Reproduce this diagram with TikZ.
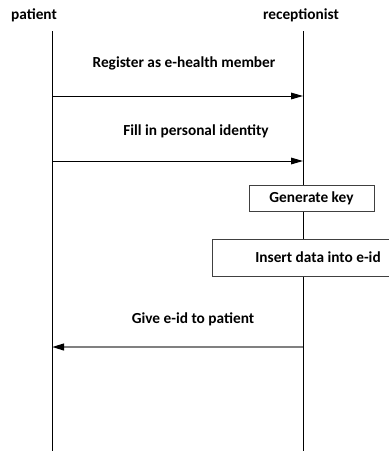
\documentclass[tikz,border=0pt]{standalone}
\usepackage{fontspec}
\setmainfont{Carlito}
\usetikzlibrary{arrows.meta}

\tikzset{every picture/.style={line width=0.75pt}}
\tikzset{
  actor/.style={font=\bfseries\fontsize{11.5}{13}\selectfont, inner sep=0pt},
  msg/.style={font=\bfseries\fontsize{11.5}{13}\selectfont, inner sep=0pt},
  task/.style={draw={rgb, 255:red, 64; green, 64; blue, 64}, fill=white, line width=0.6pt,
    font=\bfseries\fontsize{11.5}{13}\selectfont, inner sep=0pt},
  call/.style={-{Triangle[length=9pt,width=5pt,color=black]}},
}

\begin{document}
\begin{tikzpicture}[x=0.75pt,y=0.75pt,yscale=-1,xscale=1]
\useasboundingbox (0,0) rectangle (389,451);

%Actors
\node [actor] (patient) at (34,15) {patient};
\node [actor] (recept) at (301,15) {receptionist};

%Lifelines
\coordinate (pTop) at (52,31);
\coordinate (pEnd) at (52,452);
\coordinate (rTop) at (303,31);
\coordinate (rEnd) at (303,452);
\draw (pTop) -- (pEnd);
\draw (rTop) -- (rEnd);

%Straight Lines [register]
\coordinate (p1) at (52,96);
\coordinate (r1) at (303,96);
\draw [call] (p1) -- (r1);
\node [msg] (register) at (184,63) {Register as e-health member};

%Straight Lines [fill in]
\coordinate (p2) at (52,161);
\coordinate (r2) at (303,161);
\draw [call] (p2) -- (r2);
\node [msg] (fillin) at (196,131) {Fill in personal identity};

%Boxes
\node [task, minimum width=93.75pt, minimum height=19.5pt] (genkey) at (311.5,198.5) {Generate key};
\node [task, minimum width=159pt, minimum height=27.75pt] (insert) at (318,257.5) {Insert data into e-id};

%Straight Lines [give]
\coordinate (p3) at (52,347);
\coordinate (r3) at (303,347);
\draw [call, draw={rgb, 255:red, 128; green, 128; blue, 128}, line width=1.5pt] (r3) -- (p3);
\node [msg] (give) at (193,319) {Give e-id to patient};

\end{tikzpicture}
\end{document}
